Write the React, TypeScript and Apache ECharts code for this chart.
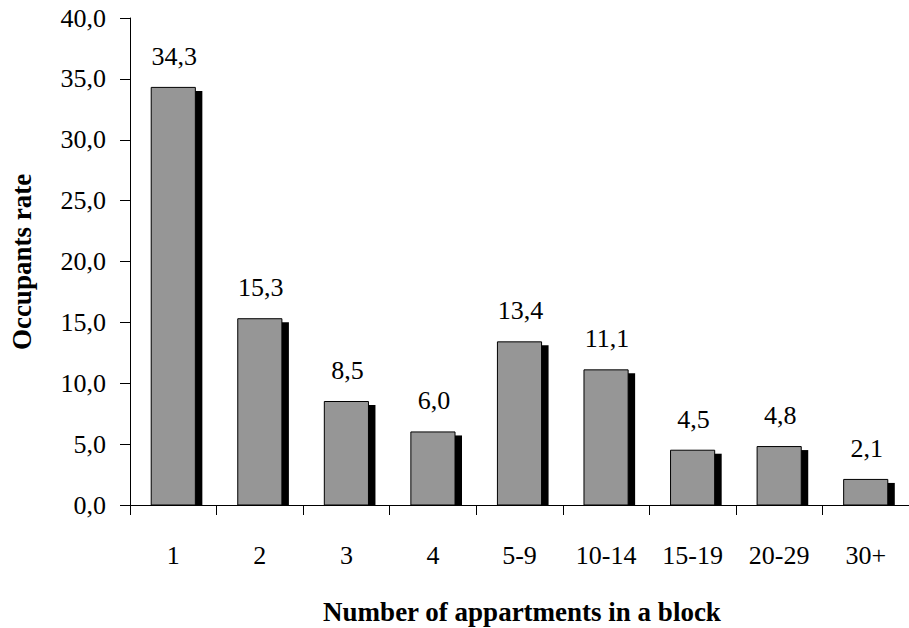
import React, { useEffect, useRef } from "react";
import * as echarts from "echarts";

const categories = ["1", "2", "3", "4", "5-9", "10-14", "15-19", "20-29", "30+"];
const values = [34.3, 15.3, 8.5, 6.0, 13.4, 11.1, 4.5, 4.8, 2.1];
const yTicks = { min: 0, max: 40, interval: 5 };
const yTitle = "Occupants rate";
const xTitle = "Number of appartments in a block";

const FONT = "Liberation Serif, Times New Roman, serif";
const fmt = (v: number) => v.toFixed(1).replace(".", ",");

export default function App() {
  const ref = useRef<HTMLDivElement>(null);
  useEffect(() => {
    if (!ref.current) return;
    const chart = echarts.init(ref.current, null, { renderer: "svg" });
    chart.setOption({
      animation: false,
      backgroundColor: "#ffffff",
      textStyle: { fontFamily: FONT },
      grid: { left: 130, top: 18, width: 787, bottom: 123, containLabel: false },
      xAxis: {
        type: "category",
        data: categories,
        axisLine: { lineStyle: { color: "#000", width: 1 } },
        axisTick: { show: true, length: 10, lineStyle: { color: "#000" }, alignWithLabel: false },
        axisLabel: { margin: 37, color: "#000", fontFamily: FONT, fontSize: 26 },
        splitLine: { show: false },
      },
      yAxis: {
        type: "value",
        min: yTicks.min,
        max: yTicks.max,
        interval: yTicks.interval,
        axisLine: { show: true, lineStyle: { color: "#000", width: 1 } },
        axisTick: { show: true, length: 10, inside: false, lineStyle: { color: "#000" } },
        axisLabel: { margin: 24, color: "#000", fontFamily: FONT, fontSize: 26, formatter: (v: number) => fmt(v) },
        splitLine: { show: false },
      },
      graphic: [
        {
          type: "text",
          x: 22,
          y: 262,
          rotation: Math.PI / 2,
          style: { text: yTitle, fontFamily: FONT, fontSize: 27, fontWeight: "bold", fill: "#000", align: "center", verticalAlign: "middle" },
        },
        {
          type: "text",
          x: 522,
          y: 612,
          style: { text: xTitle, fontFamily: FONT, fontSize: 27, fontWeight: "bold", fill: "#000", align: "center", verticalAlign: "middle" },
        },
      ],
      series: [
        {
          type: "custom",
          data: values.map((v, i) => [i, v]),
          encode: { x: 0, y: 1 },
          renderItem: (params: any, api: any) => {
            const idx = api.value(0);
            const val = api.value(1);
            const top = api.coord([idx, val]);
            const base = api.coord([idx, 0]);
            const band = api.size([1, 0])[0];
            const w = band * 0.51;
            const x0 = top[0] - w / 2;
            const h = base[1] - top[1];
            return {
              type: "group",
              children: [
                {
                  type: "rect",
                  shape: { x: x0 + w - 1, y: top[1] + 3.5, width: 8, height: Math.max(0, h - 3.5) },
                  style: { fill: "#000" },
                },
                {
                  type: "rect",
                  shape: { x: x0, y: top[1], width: w, height: h },
                  style: { fill: "#969696", stroke: "#000", lineWidth: 1 },
                },
                {
                  type: "text",
                  x: top[0] + 1,
                  y: top[1] - 31,
                  style: { text: fmt(val), fontFamily: FONT, fontSize: 26, fill: "#000", align: "center", verticalAlign: "middle" },
                },
              ],
            };
          },
        },
      ],
    });
    return () => chart.dispose();
  }, []);
  return <div ref={ref} style={{ width: 909, height: 628, position: "absolute", left: 0, top: 0 }} />;
}
